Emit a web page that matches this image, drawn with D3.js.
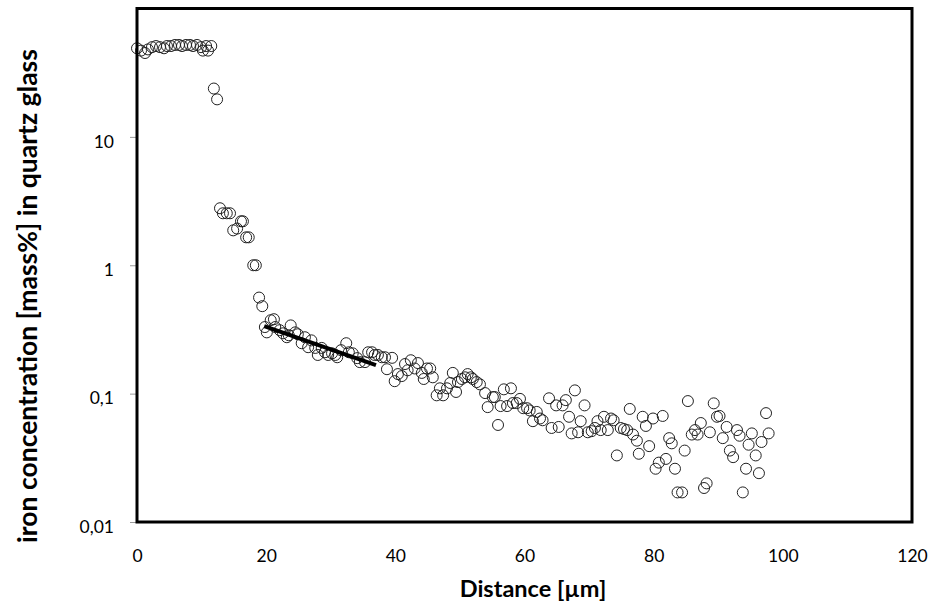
<!DOCTYPE html>
<html>
<head>
<meta charset="utf-8">
<script src="https://cdn.jsdelivr.net/npm/d3@7"></script>
<style>
  body { margin: 0; background: #fff; }
  svg { display: block; font-family: Lato, "Open Sans", sans-serif; }
</style>
</head>
<body>
<div id="chart"></div>
<script>
// measured profile: distance [µm] and Fe concentration [mass%]
const distance = [
    0, 0.62, 1.24, 1.7, 2.32, 2.94, 3.56, 4.18, 4.64, 5.26, 5.88, 6.5, 6.97, 7.59, 8.2, 8.67, 9.29, 9.91, 10.2, 10.7, 11.0, 11.5,
    11.9, 12.4, 12.85, 13.3, 13.9, 14.4, 14.9, 15.5, 16.1, 16.4, 16.9, 17.3, 18.0, 18.4, 18.9, 19.4,
    19.8, 20.1, 20.7, 21.2, 21.4, 22.1, 22.6, 23.2, 23.5, 23.8, 24.5, 24.9, 25.5, 26.0, 26.5, 27.0, 27.6, 28.0, 28.6, 29.1,
    29.6, 30.2, 30.7, 31.0, 31.6, 32.4, 32.8, 33.4, 34.1, 34.5, 35.3, 35.8, 36.4, 36.8, 37.3, 37.9, 38.4, 38.7, 39.5,
    39.9, 40.4, 41.0, 41.5, 41.9, 42.4, 43.0, 43.5, 44.1, 44.4, 44.9, 45.4, 45.8, 46.4, 46.9, 47.4, 48.0, 48.5, 48.9, 49.4,
    49.7, 50.3, 50.8, 51.2, 51.7, 52.0, 52.6, 53.1, 53.9, 54.3, 55.1, 55.4, 55.9, 56.3, 56.8, 57.3, 57.9, 58.2, 58.8, 59.3,
    59.8, 60.4, 60.8, 61.3, 61.9, 62.4, 62.8, 63.8, 64.2, 64.9, 65.3, 65.9, 66.4, 66.9, 67.3, 67.8, 68.3, 68.7, 69.3, 69.8,
    70.4, 70.9, 71.3, 71.8, 72.3, 72.9, 73.4, 73.8, 74.3, 74.9, 75.4, 75.9, 76.3, 76.8, 77.4, 77.7, 78.3, 78.8, 79.3, 79.9,
    80.3, 80.8, 81.4, 81.9, 82.4, 82.8, 83.3, 83.7, 84.4, 84.8, 85.3, 85.9, 86.4, 86.8, 87.3, 87.8, 88.2, 88.7, 89.3, 89.8,
    90.2, 90.7, 91.3, 91.8, 92.3, 92.9, 93.3, 93.8, 94.3, 94.7, 95.2, 95.8, 96.3, 96.7, 97.4, 97.8
];
const concentration = [
    49, 47, 45, 48, 50, 51, 50, 49, 51, 51, 52, 52, 51, 52, 52, 51, 52, 50, 47, 51, 47, 51,
    23.8, 19.6, 2.78, 2.54, 2.54, 2.54, 1.87, 1.93, 2.2, 2.2, 1.65, 1.65, 1.0, 1.0, 0.56, 0.48,
    0.33, 0.30, 0.373, 0.38, 0.33, 0.312, 0.295, 0.275, 0.285, 0.34, 0.30, 0.29, 0.247, 0.275, 0.23, 0.26, 0.227, 0.2, 0.227, 0.21,
    0.2, 0.206, 0.2, 0.192, 0.218, 0.247, 0.21, 0.206, 0.189, 0.176, 0.176, 0.21, 0.21, 0.2, 0.2, 0.192, 0.192, 0.155, 0.19,
    0.125, 0.142, 0.137, 0.17, 0.152, 0.182, 0.157, 0.173, 0.145, 0.13, 0.157, 0.157, 0.134, 0.097, 0.11, 0.097, 0.11, 0.121, 0.145, 0.103,
    0.123, 0.13, 0.134, 0.142, 0.134, 0.13, 0.123, 0.118, 0.101, 0.0785, 0.094, 0.094, 0.057, 0.08, 0.108, 0.08, 0.11, 0.0844, 0.0844, 0.091,
    0.077, 0.077, 0.074, 0.061, 0.072, 0.064, 0.062, 0.092, 0.054, 0.081, 0.055, 0.081, 0.089, 0.066, 0.049, 0.106, 0.05, 0.061, 0.081, 0.05,
    0.051, 0.054, 0.061, 0.052, 0.066, 0.052, 0.064, 0.062, 0.033, 0.054, 0.053, 0.052, 0.076, 0.048, 0.043, 0.034, 0.066, 0.056, 0.039, 0.064,
    0.026, 0.029, 0.067, 0.031, 0.045, 0.041, 0.026, 0.017, 0.017, 0.036, 0.0875, 0.048, 0.052, 0.048, 0.059, 0.0184, 0.02, 0.05, 0.084, 0.066,
    0.067, 0.045, 0.055, 0.036, 0.032, 0.052, 0.047, 0.017, 0.026, 0.04, 0.049, 0.033, 0.024, 0.042, 0.0705, 0.049
];

// exponential fit drawn between these two ends
const fitDistance = [19.7, 37.0];
const fitConcentration = [0.335, 0.167];

const xTicks = [0, 20, 40, 60, 80, 100, 120];
const yTicks = [0.01, 0.1, 1, 10];

function createDiffusionChart(selector = "#chart") {
    const width = 928;
    const height = 606;
    const plot = { left: 137, right: 912, top: 8.5, bottom: 522 };

    const points = distance.map((d, i) => ({ d, c: concentration[i] }));
    const fit = fitDistance.map((d, i) => ({ d, c: fitConcentration[i] }));

    const svg = d3.select(selector)
        .html("")
        .append("svg")
        .attr("width", width)
        .attr("height", height);

    const x = d3.scaleLinear()
        .domain([0, 120])
        .range([plot.left, plot.right]);

    const y = d3.scaleLog()
        .domain([0.01, 100])
        .range([plot.bottom, plot.top]);

    // y axis with small grey ticks outside the frame
    const yAxis = svg.append("g")
        .attr("transform", `translate(${plot.left},0)`)
        .call(d3.axisLeft(y)
            .tickValues(yTicks)
            .tickSize(7)
            .tickPadding(16)
            .tickFormat(d => String(d).replace(".", ",")));
    yAxis.select(".domain").remove();
    yAxis.selectAll("line").attr("stroke", "#999");
    yAxis.selectAll("text")
        .attr("dy", "0.58em")
        .style("font-size", "17.5px")
        .style("font-family", "Lato, sans-serif")
        .attr("fill", "#000");

    const xAxis = svg.append("g")
        .attr("transform", `translate(0,${plot.bottom})`)
        .call(d3.axisBottom(x)
            .tickValues(xTicks)
            .tickSize(0)
            .tickPadding(28));
    xAxis.select(".domain").remove();
    xAxis.selectAll("text")
        .style("font-size", "17.5px")
        .style("font-family", "Lato, sans-serif")
        .attr("fill", "#000");

    svg.selectAll(".dot")
        .data(points)
        .join("circle")
        .attr("class", "dot")
        .attr("cx", d => x(d.d))
        .attr("cy", d => y(d.c))
        .attr("r", 5.5)
        .attr("fill", "none")
        .attr("stroke", "#222")
        .attr("stroke-width", 1);

    svg.append("path")
        .datum(fit)
        .attr("d", d3.line().x(d => x(d.d)).y(d => y(d.c)))
        .attr("fill", "none")
        .attr("stroke", "#000")
        .attr("stroke-width", 4);

    // frame
    svg.append("rect")
        .attr("x", plot.left)
        .attr("y", plot.top)
        .attr("width", plot.right - plot.left)
        .attr("height", plot.bottom - plot.top)
        .attr("fill", "none")
        .attr("stroke", "#000")
        .attr("stroke-width", 3);

    svg.append("text")
        .attr("x", 533)
        .attr("y", 597)
        .attr("text-anchor", "middle")
        .style("font-size", "23.5px")
        .style("font-weight", "bold")
        .text("Distance [µm]");

    svg.append("text")
        .attr("transform", "rotate(-90)")
        .attr("x", -296)
        .attr("y", 37)
        .attr("text-anchor", "middle")
        .style("font-size", "26.5px")
        .style("font-weight", "bold")
        .text("iron concentration [mass%] in quartz glass");
}

createDiffusionChart();
</script>
</body>
</html>
